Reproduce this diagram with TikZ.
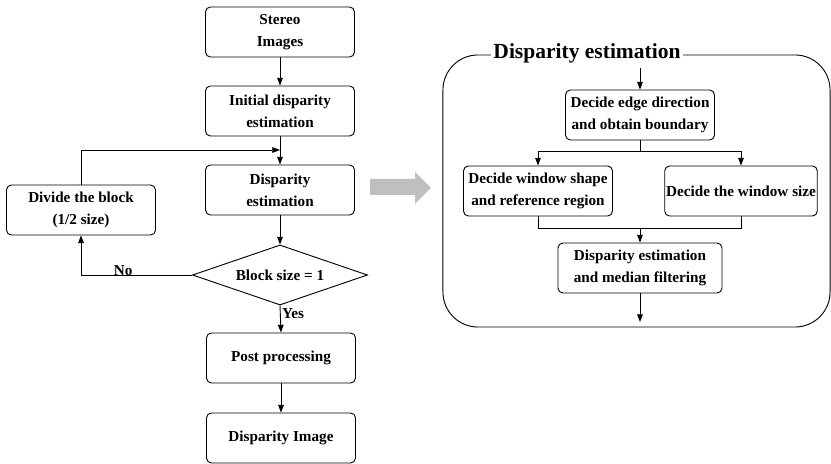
\documentclass[tikz,border=0pt]{standalone}
\usepackage{fontspec}
\setmainfont{Liberation Serif}
\usetikzlibrary{arrows.meta,shapes.geometric}

\newcommand{\boxfont}{\fontsize{10.8}{15.5}\selectfont\bfseries}
\newcommand{\paneltitlefont}{\fontsize{15.3}{17}\selectfont\bfseries}

\tikzset{
  procbox/.style={draw, rounded corners=3.5pt, minimum width=3.725cm,
    minimum height=1.25cm, align=center, font=\boxfont, inner sep=1pt},
  decision/.style={draw, diamond, aspect=2.9, minimum width=4.375cm,
    minimum height=1.5cm, font=\boxfont, inner sep=1pt},
  flowline/.style={-{Triangle[length=5.5pt,width=4pt]}},
  flowlabel/.style={font=\boxfont, inner sep=1pt}
}

\begin{document}
\begin{tikzpicture}[x=0.025cm, y=-0.025cm, line width=0.65pt]
  \useasboundingbox (0,0) rectangle (831,464);

  % main flow
  \node [procbox] (stereo) at (280,32) {Stereo\\Images};
  \node [procbox] (init) at (280,111) {Initial disparity\\estimation};
  \node [procbox] (disp) at (280,190) {Disparity\\estimation};
  \node [procbox] (divide) at (81,210) {Divide the block\\(1/2 size)};
  \node [decision] (check) at (280,275) {Block size = 1};
  \node [procbox] (post) at (281,358) {Post processing};
  \node [procbox] (result) at (281,438) {Disparity Image};

  \coordinate (loop) at (80,150);

  \draw [flowline] (stereo) -- (init);
  \draw [flowline] (init) -- (disp);
  \draw [flowline] (disp) -- (check);
  \draw [flowline] (divide.north) |- (init.south |- loop);
  \draw [flowline] (check.west) -| node [flowlabel, pos=0.31, anchor=south, yshift=-1.5pt] {No} (divide.south);
  \draw [flowline] (check.south) -- node [flowlabel, pos=0.3, right] {Yes} (post.north);
  \draw [flowline] (post) -- (result);

  % gray arrow
  \fill [gray!50] (370,179) -- (415,179) -- (415,172) -- (431,188)
    -- (415,204) -- (415,195) -- (370,195) -- cycle;

  % disparity estimation panel
  \node [draw, rounded corners=0.875cm, minimum width=9.675cm,
    minimum height=6.8cm] (panel) at (636.5,191) {};
  \node [fill=white, font=\paneltitlefont, inner sep=2pt] (title) at (587,53) {Disparity estimation};

  \node [procbox] (edge) at (640,115) {Decide edge direction\\and obtain boundary};
  \node [procbox] (shape) at (538,191) {Decide window shape\\and reference region};
  \node [procbox] (wsize) at (741,191) {Decide the window size};
  \node [procbox, minimum width=4.1cm] (median) at (640,268) {Disparity estimation\\and median filtering};

  \coordinate (panelin) at (640,68);
  \coordinate (split) at (640,151);
  \coordinate (merge) at (640,228);
  \coordinate (panelout) at (640,322);

  \draw [flowline] (panelin) -- (edge.north);
  \draw (edge.south) -- (split);
  \draw [flowline] (split) -| (shape.north);
  \draw [flowline] (split) -| (wsize.north);
  \draw (shape.south) |- (merge);
  \draw (wsize.south) |- (merge);
  \draw [flowline] (merge) -- (median.north);
  \draw [flowline] (median.south) -- (panelout);
\end{tikzpicture}
\end{document}
